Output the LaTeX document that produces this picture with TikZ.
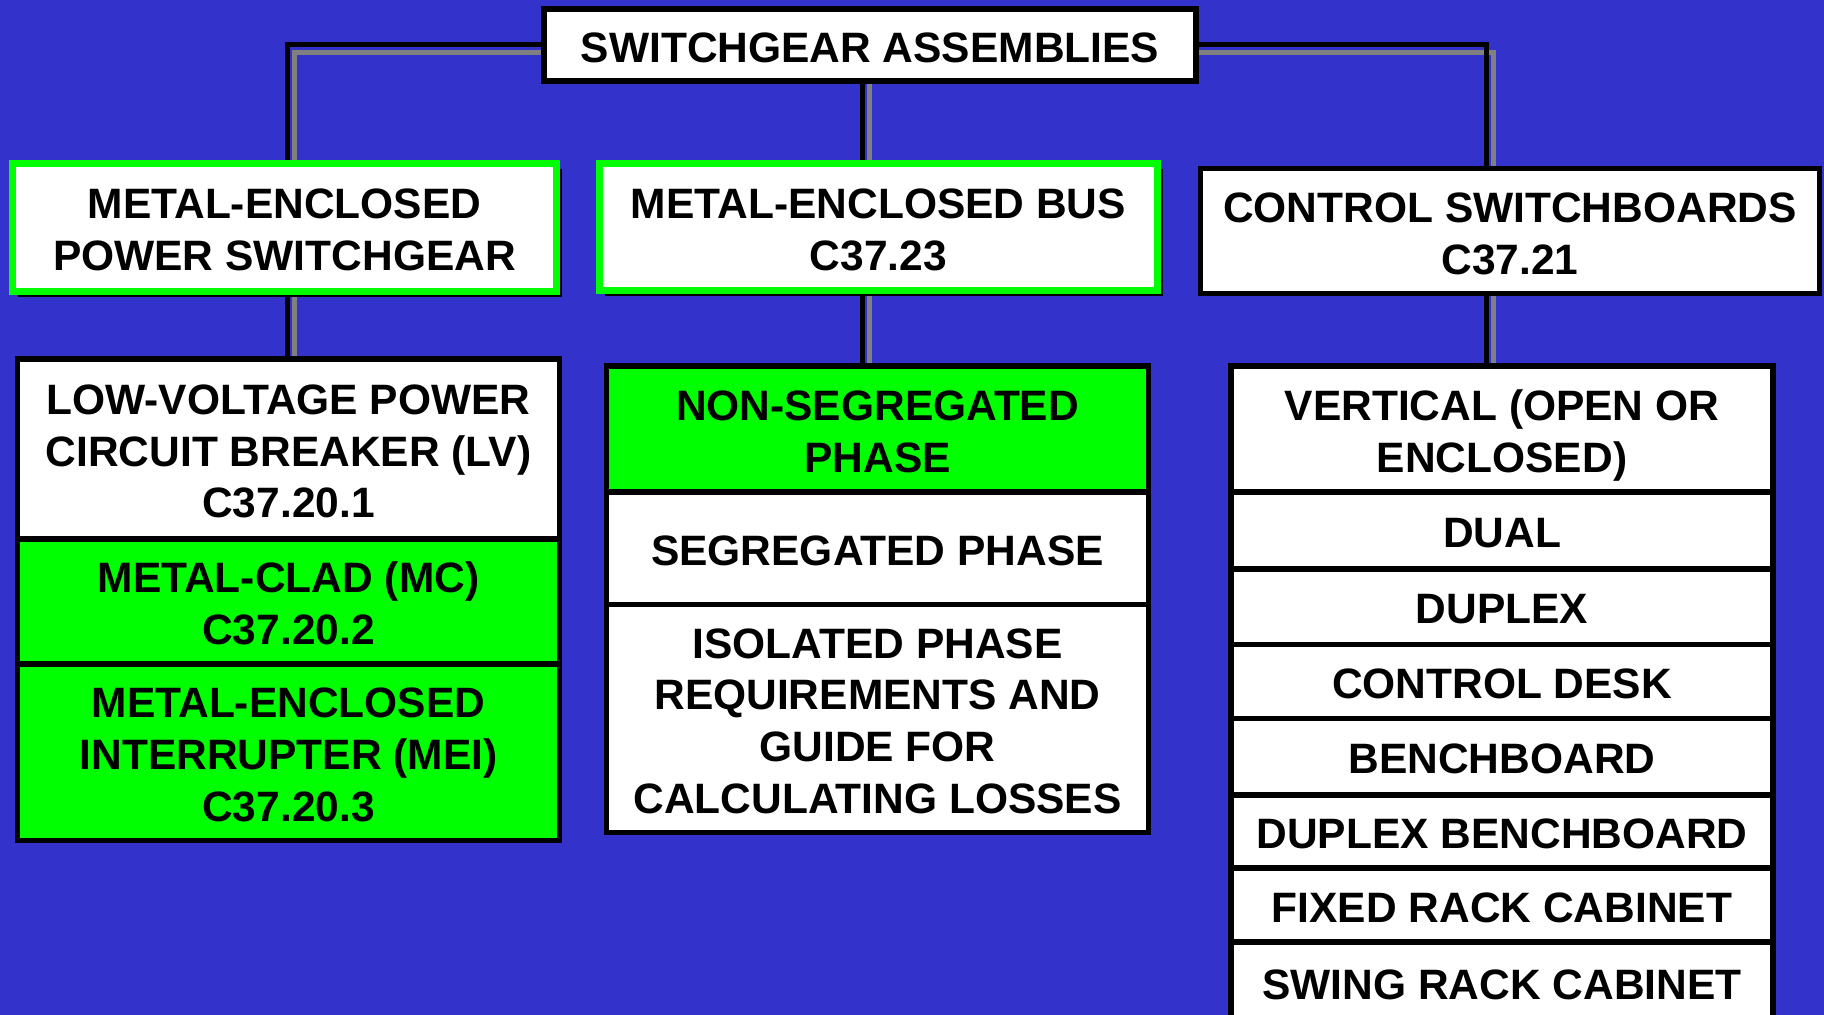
\documentclass[tikz,border=0pt]{standalone}
\usepackage{fontspec}
\setmainfont{Liberation Sans}
\usepackage{tikz}
\usetikzlibrary{positioning, shadows}

\definecolor{bgblue}{HTML}{3333CC}
\definecolor{brightgreen}{HTML}{00FF00}
\definecolor{linkgray}{HTML}{808080}

\pgfdeclarelayer{canvas}
\pgfdeclarelayer{links}
\pgfsetlayers{canvas,links,main}

\begin{document}
\begin{tikzpicture}[
    x=1pt, y=-1pt,
    font=\fontsize{21.25}{25.9}\selectfont\bfseries,
    every node/.style={rectangle, inner sep=0pt, outer sep=0pt, align=flush center, text width=265pt,
        execute at begin node={\rule{0pt}{21.8pt}}, execute at end node={\rule[-4.6pt]{0pt}{0pt}}},
    hdr/.style={draw=black, line width=3pt, fill=white, minimum width=326pt, minimum height=36pt, text width=310pt},
    grp/.style={draw=brightgreen, line width=3.5pt, fill=white, drop shadow={shadow xshift=2.75pt, shadow yshift=-2.75pt, fill=black, opacity=1}},
    cell/.style={draw=black, line width=2.75pt, fill=white, minimum width=271pt},
    gcell/.style={cell, fill=brightgreen},
    link/.style={line width=2.5pt, draw=black, preaction={draw=linkgray, line width=2.5pt, transform canvas={shift={(3.5pt,-4pt)}}}}
]
    \useasboundingbox (0,0) rectangle (912,507.5);
    \begin{pgfonlayer}{canvas}
        \fill[bgblue] (0,0) rectangle (912,507.5);
    \end{pgfonlayer}

    % top and the three groups
    \node[hdr] (top) at (435,22.5) {SWITCHGEAR ASSEMBLIES};
    \node[grp, minimum width=272pt, minimum height=64pt] (mesg) at (142.25,113.75) {METAL-ENCLOSED\\POWER SWITCHGEAR};
    \node[grp, minimum width=279pt, minimum height=63.5pt] (mebus) at (439.25,113.5) {METAL-ENCLOSED BUS\\C37.23};
    \node[cell, minimum width=309.5pt, minimum height=62.5pt, text width=300pt] (csw) at (755,115.5) {CONTROL SWITCHBOARDS\\C37.21};

    % switchgear column
    \node[cell, anchor=north, minimum height=90pt] (lv) at (144.25,179.5) {LOW-VOLTAGE POWER\\CIRCUIT BREAKER (LV)\\C37.20.1};
    \node[gcell, below=0pt of lv, minimum height=62.5pt] (mc) {METAL-CLAD (MC)\\C37.20.2};
    \node[gcell, below=0pt of mc, minimum height=88.25pt] (mei) {METAL-ENCLOSED\\INTERRUPTER (MEI)\\C37.20.3};

    % bus column
    \node[gcell, anchor=north, minimum height=63pt] (nsp) at (438.75,183) {NON-SEGREGATED\\PHASE};
    \node[cell, below=0pt of nsp, minimum height=56.25pt] (sp) {SEGREGATED PHASE};
    \node[cell, below=0pt of sp, minimum height=114pt] (ip) {ISOLATED PHASE\\REQUIREMENTS AND\\GUIDE FOR\\CALCULATING LOSSES};

    % switchboard column
    \node[cell, anchor=north, minimum height=63pt] (vert) at (751,183) {VERTICAL (OPEN OR\\ENCLOSED)};
    \node[cell, below=0pt of vert, minimum height=38.5pt] (dual) {DUAL};
    \node[cell, below=0pt of dual, minimum height=37.75pt] (duplex) {DUPLEX};
    \node[cell, below=0pt of duplex, minimum height=37pt] (desk) {CONTROL DESK};
    \node[cell, below=0pt of desk, minimum height=38.25pt] (bench) {BENCHBOARD};
    \node[cell, below=0pt of bench, minimum height=36.5pt] (dbench) {DUPLEX BENCHBOARD};
    \node[cell, below=0pt of dbench, minimum height=37pt] (fixed) {FIXED RACK CABINET};
    \node[cell, below=0pt of fixed, minimum height=40pt] (swing) {SWING RACK CABINET};

    \coordinate (tm) at ([xshift=-4pt]top.center);
    \coordinate (gl) at ([xshift=1.25pt]mesg.center);
    \coordinate (gm) at ([xshift=-8.25pt]mebus.center);
    \coordinate (gr) at ([xshift=-12pt]csw.center);

    \begin{pgfonlayer}{links}
        \draw[link] (top.center) -| (gl);
        \draw[link] (top.center) -| (gr);
        \draw[link] (tm) -- (tm |- mebus.center);
        \draw[link] (gl) -- (gl |- lv.center);
        \draw[link] (gm) -- (gm |- nsp.center);
        \draw[link] (gr) -- (gr |- vert.center);
    \end{pgfonlayer}
\end{tikzpicture}
\end{document}
